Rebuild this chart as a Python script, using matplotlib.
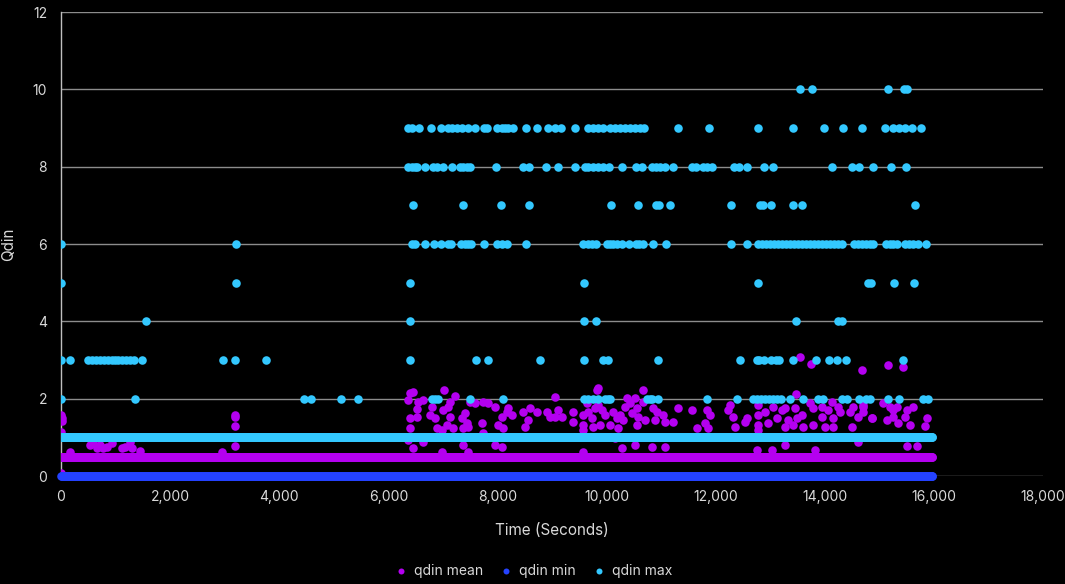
import numpy as np
import matplotlib
matplotlib.use("Agg")
import matplotlib.pyplot as plt
from matplotlib.ticker import FuncFormatter

# ---------------- data ----------------
# regular sampling times (s) of the run
time = np.arange(0, 15980, 10)
mean_base = 0.5
min_base = 0.0
max_base = 1.0

# qdin mean: samples deviating from the 0.5 baseline
mean_out_t = [0, 12, 24, 0, 0, 165, 532, 593, 654, 715, 776, 837, 929, 1113, 1173, 1265, 1296, 1448,
              2946, 3195, 3195, 3195, 3195,
              6397, 6458, 6366, 6549, 6641, 6520, 6397, 6520, 6397, 6366, 6458, 6641, 6795, 6764, 6856,
              6887, 7026, 7008, 7100, 7130, 7222, 7070, 7130, 7191, 6978, 7345, 7405, 7436, 7375, 7466,
              7497, 7589, 7375, 7466, 7741, 7833, 7955, 7723, 7741, 8016, 8107, 8078, 8170, 8199, 8261,
              7955, 8078, 8474, 8597, 8566, 8505, 8720, 8903, 8963, 9055, 9116, 9055, 6978,
              9177, 9390, 9390, 9574, 9574, 9574, 9636, 9819, 9849, 9666, 9727, 9788, 9849, 9910, 9972,
              9880, 9757, 10063, 10124, 10185, 10246, 10216, 10307, 10369, 10522, 10338, 10430, 10552,
              10460, 10583, 10552, 10674, 10674, 10705, 10857, 10918, 10888, 11040, 11071, 11224, 11315,
              11560, 11652, 11805, 11835, 11896, 11866, 10277, 10522, 10827, 11071, 10155, 9574,
              12263, 12232, 12324, 12354, 12568, 12538, 12782, 12782, 12782, 12782, 12905, 12966, 13058,
              13119, 13210, 13271, 13271, 13332, 13424, 13454, 13467, 13485, 13576, 13607, 13729, 13790,
              13790, 13943, 14004, 13943, 14065, 14127, 14157, 14157, 14249, 14279, 14462, 14493, 14524,
              14615, 14707, 14860, 13271, 12752, 13027, 13821, 14615,
              15165, 15440, 14676, 15073, 15196, 15257, 15318, 15501, 15623, 14707, 14707, 14860, 15135,
              15257, 15348, 15471, 15563, 15838, 15868, 15501, 15684, 13546, 13748]
mean_out_v = [1.58, 1.49, 1.42, 1.15, 0.09, 0.61, 0.80, 0.89, 0.72, 0.80, 0.72, 0.76, 0.85, 0.72, 0.76,
              0.89, 0.72, 0.65, 0.61, 1.58, 1.52, 1.29, 0.78,
              2.14, 2.18, 1.97, 1.92, 1.97, 1.72, 1.49, 1.53, 1.23, 0.93, 0.72, 0.89, 1.79, 1.58, 1.49,
              1.23, 2.22, 1.71, 1.79, 1.92, 2.08, 1.32, 1.53, 1.23, 1.19, 1.49, 1.62, 1.36, 1.23, 1.27,
              1.92, 1.88, 0.80, 0.63, 1.92, 1.88, 1.79, 1.36, 1.10, 1.32, 1.23, 1.53, 1.66, 1.75, 1.58,
              0.80, 0.76, 1.66, 1.77, 1.45, 1.27, 1.65, 1.66, 1.53, 1.53, 1.71, 2.05, 0.63,
              1.53, 1.66, 1.40, 1.58, 1.32, 1.19, 1.88, 2.22, 2.27, 1.66, 1.49, 1.75, 1.84, 1.71, 1.58,
              1.32, 1.27, 1.32, 1.66, 1.49, 1.58, 1.23, 1.45, 2.01, 2.01, 1.79, 1.88, 1.75,
              1.62, 1.53, 1.32, 2.22, 1.92, 1.45, 1.75, 1.66, 1.45, 1.58, 1.40, 1.40, 1.75,
              1.71, 1.23, 1.36, 1.71, 1.58, 1.23, 0.72, 0.80, 0.76, 0.76, 0.97, 0.63,
              1.84, 1.71, 1.53, 1.27, 1.49, 1.40, 1.84, 1.58, 1.32, 1.19, 1.66, 1.36, 1.79,
              1.49, 1.71, 1.75, 1.27, 1.45, 1.32, 1.75, 2.11, 1.49, 1.58, 1.27, 1.88, 1.75,
              1.32, 1.53, 1.27, 1.79, 1.71, 1.92, 1.49, 1.27, 1.79, 1.66, 1.66, 1.27, 1.79,
              1.53, 1.84, 1.49, 0.80, 0.67, 0.67, 0.67, 0.89,
              2.87, 2.83, 2.74, 1.88, 1.79, 1.71, 1.79, 1.71, 1.79, 1.79, 1.66, 1.49, 1.45,
              1.53, 1.36, 1.53, 1.32, 1.29, 1.49, 0.78, 0.78, 3.09, 2.90]

# qdin max: samples deviating from the 1.0 baseline, grouped by level
max_t_10 = [13546, 13772, 15165, 15453, 15502]
max_t_9 = [6361, 6434, 6562, 6782, 6965, 7094, 7167, 7259, 7350, 7460, 7589, 7754, 7809, 7992, 8084,
           8139, 8194, 8286, 8524, 8726, 8927, 9055, 9165, 9422, 9660, 9752, 9843, 9935, 10063, 10155,
           10247, 10339, 10430, 10522, 10614, 10687, 11310, 11885, 12777, 13413, 13993, 14330, 14689,
           15105, 15246, 15362, 15472, 15606, 15771]
max_t_8 = [6366, 6428, 6489, 6531, 6672, 6824, 6887, 7008, 7161, 7314, 7375, 7436, 7497, 7974, 8474,
           8584, 8885, 9116, 9422, 9605, 9666, 9757, 9849, 9941, 10051, 10277, 10540, 10644, 10827,
           10906, 10980, 11071, 11224, 11560, 11640, 11774, 11836, 11939, 12342, 12434, 12580, 12886,
           13057, 14138, 14494, 14633, 14879, 15214, 15495]
max_t_7 = [6452, 7363, 8060, 8584, 10082, 10582, 10906, 10967, 11163, 12276, 12813, 12862, 13020,
           13412, 13583, 15659]
max_t_6 = [0, 3200, 6428, 6489, 6672, 6837, 6965, 7099, 7143, 7326, 7405, 7466, 7510, 7754, 7986, 8078,
           8170, 8524, 9574, 9666, 9727, 9806, 10002, 10063, 10124, 10197, 10277, 10417, 10540, 10600,
           10662, 10857, 11084, 12276, 12580, 12776, 12850, 12923, 12996, 13070, 13143, 13216, 13290,
           13363, 13436, 13510, 13583, 13656, 13730, 13803, 13876, 13950, 14023, 14096, 14170, 14243,
           14316, 14530, 14603, 14676, 14750, 14823, 14879, 15123, 15196, 15251, 15324, 15471, 15544,
           15617, 15709, 15861]
max_t_5 = [0, 3200, 6391, 9580, 12777, 14799, 14843, 15276, 15637]
max_t_4 = [1558, 6391, 9580, 9806, 13473, 14248, 14310]
max_t_3 = [0, 165, 495, 568, 642, 715, 788, 862, 935, 990, 1045, 1118, 1191, 1265, 1338, 1479, 2975,
           3195, 3752, 6391, 7613, 7833, 8780, 9580, 9929, 10020, 10943, 12440, 12752, 12800, 12891,
           13014, 13106, 13167, 13418, 13834, 14078, 14219, 14384, 15440]
max_t_2 = [0, 1357, 4460, 4583, 5133, 5439, 6795, 6856, 6916, 7497, 8107, 9592, 9654, 9757, 9838, 9972,
           10032, 10063, 10736, 10797, 10827, 10949, 11836, 12386, 12684, 12758, 12831, 12904, 12978,
           13051, 13124, 13198, 13363, 13607, 13882, 13973, 14310, 14402, 14633, 14756, 14829, 15165,
           15361, 15795, 15886]
max_levels = {10: max_t_10, 9: max_t_9, 8: max_t_8, 7: max_t_7, 6: max_t_6,
              5: max_t_5, 4: max_t_4, 3: max_t_3, 2: max_t_2}

x_ticks = list(range(0, 18001, 2000))
y_ticks = list(range(0, 13, 2))

# ---------------- build series ----------------
mean_t = np.concatenate([time, mean_out_t])
mean_v = np.concatenate([np.full(len(time), mean_base), mean_out_v])
min_t = time
min_v = np.full(len(time), min_base)
mt, mv = [time], [np.full(len(time), max_base)]
for lvl, ts in max_levels.items():
    mt.append(np.array(ts))
    mv.append(np.full(len(ts), float(lvl)))
max_t = np.concatenate(mt)
max_v = np.concatenate(mv)

# ---------------- plot ----------------
FONT = "Inter"
plt.rcParams['font.family'] = [FONT, 'DejaVu Sans']
fig = plt.figure(figsize=(10.65, 5.84), dpi=100, facecolor="black")
ax = fig.add_axes([61 / 1065, 1 - 476 / 584, (1043 - 61) / 1065, (476 - 12) / 584])
ax.set_facecolor("black")

c_mean = "#B400F0"
c_min = "#2442FF"
c_max = "#33C8FF"
S = 38
ax.scatter(mean_t, mean_v, s=S, color=c_mean, linewidths=0, label="qdin mean", zorder=3)
ax.scatter(min_t, min_v, s=S, color=c_min, linewidths=0, label="qdin min", zorder=3, clip_on=False)
ax.scatter(max_t, max_v, s=S, color=c_max, linewidths=0, label="qdin max", zorder=3)

ax.set_xlim(0, 18000)
ax.set_ylim(0, 12)
ax.set_xticks(x_ticks)
ax.set_yticks(y_ticks)
ax.xaxis.set_major_formatter(FuncFormatter(lambda v, p: f"{int(v):,}"))
ax.tick_params(axis="both", length=0, colors="#d9d9d9", labelsize=10)
ax.tick_params(axis="x", pad=10)
ax.tick_params(axis="y", pad=10)
ax.grid(axis="y", color="#8c8c8c", linewidth=1.0, zorder=0)
ax.set_axisbelow(True)
for s in ["top", "right", "bottom"]:
    ax.spines[s].set_visible(False)
ax.spines["left"].set_color("#bfbfbf")
ax.spines["left"].set_linewidth(1.0)

ax.set_xlabel("Time (Seconds)", color="#d9d9d9", fontsize=11, labelpad=14)
ax.set_ylabel("Qdin", color="#d9d9d9", fontsize=11, labelpad=12)

leg = fig.legend(loc="center", bbox_to_anchor=(0.5, 1 - 571 / 584), ncol=3, frameon=False,
                 fontsize=10, markerscale=0.7, handletextpad=0.35, columnspacing=1.05,
                 handlelength=1.2, labelcolor="#d9d9d9")

fig.savefig("out.png", dpi=100, facecolor="black")
